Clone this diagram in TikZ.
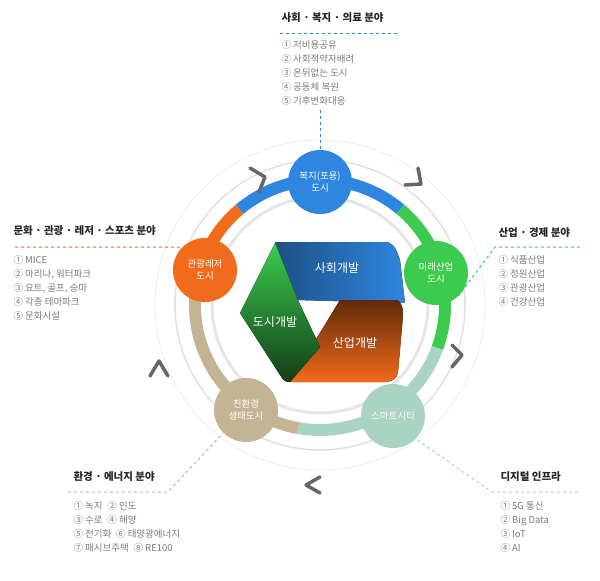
\documentclass[tikz,border=0pt]{standalone}
\usepackage{fontspec}
\setmainfont{Noto Sans CJK KR}
\usetikzlibrary{arrows,positioning}
\definecolor{cblue}{HTML}{2F86E0}
\definecolor{cgreen}{HTML}{3CCB4E}
\definecolor{cteal}{HTML}{A9D3C2}
\definecolor{ctan}{HTML}{C4B496}
\definecolor{corange}{HTML}{F26A1B}
\definecolor{ctext}{HTML}{7A7A7A}
\begin{document}
\begin{tikzpicture}[x=1pt,y=-1pt,font=\fontsize{9}{11}\selectfont]
          \tikzstyle{city}=[circle,minimum size=64pt,inner sep=0pt,text=white,align=center,font=\fontsize{9.5}{12}\selectfont]
          \tikzstyle{title}=[anchor=west,text=black!85,font=\fontsize{10.5}{12}\selectfont\bfseries]
          \tikzstyle{items}=[anchor=north west,text=ctext,align=left,font=\fontsize{9.5}{14}\selectfont]
          \tikzstyle{band}=[text=white,font=\fontsize{12}{14}\selectfont]
          \tikzstyle{ring}=[line width=12pt]
          \tikzstyle{chev}=[line width=3.5pt,black!60,line cap=round,line join=round]
          \useasboundingbox (0,0) rectangle (600,581);
          \coordinate (O) at (320,305);
          % guide circles
          \draw[black!12,line width=1.5pt] (O) circle (145);
          \draw[black!6,line width=1pt] (O) circle (165);
          \draw[black!10,line width=3pt] (O) circle (108);
          % coloured ring
          \draw[ring,cteal]   (O) ++(20:125) arc[start angle=20,end angle=100,radius=125];
          \draw[ring,ctan]    (O) ++(100:125) arc[start angle=100,end angle=190,radius=125];
          \draw[ring,corange] (O) ++(190:125) arc[start angle=190,end angle=230,radius=125];
          \draw[ring,cblue]   (O) ++(230:125) arc[start angle=230,end angle=310,radius=125];
          \draw[ring,cgreen]  (O) ++(310:125) arc[start angle=310,end angle=380,radius=125];
          % chevrons (clockwise)
          \draw[chev] (250,168) -- (265,177) -- (259,192);
          \draw[chev] (418,168) -- (421,184) -- (405,185);
          \draw[chev] (452,345) -- (462,355) -- (452,367);
          \draw[chev] (320,477) -- (306,485) -- (320,493);
          \draw[chev] (150,376) -- (159,361) -- (168,376);
          % centre ribbon
          \fill[left color=cblue!60!black,right color=cblue] (275,242) -- (385,242) to[out=0,in=110] (400,260) -- (405,303) -- (297,300) -- cycle;
          \fill[top color=corange!40!black,bottom color=corange] (340,300) -- (395,300) to[out=0,in=90] (403,316) -- (398,372) to[out=-90,in=0] (385,382) -- (290,382) -- cycle;
          \fill[top color=cgreen,bottom color=cgreen!30!black] (275,243) -- (297,298) -- (320,347) -- (290,382) to[out=180,in=-60] (282,378) -- (240,313) -- cycle;
          \node[band] (social) at (337,268) {사회개발};
          \node[band] (urban) at (275,322) {도시개발};
          \node[band] (industry) at (355,343) {산업개발};
          % city nodes
          \node[city,fill=cblue]   (welfare) at (320,182) {복지(포용)\\도시};
          \node[city,fill=cgreen]  (future)  at (436,273) {미래산업\\도시};
          \node[city,fill=cteal]   (smart)   at (393,416) {스마트시티};
          \node[city,fill=ctan]    (eco)     at (246,410) {친환경\\생태도시};
          \node[city,fill=corange] (tour)    at (205,270) {관광레저\\도시};
          % fields
          \node[title] (t1) at (278,18) {사회 · 복지 · 의료 분야};
          \draw[cblue,dashed,line width=1pt] (280,33) -- (400,33);
          \draw[cblue,dashed] (320,110) -- (welfare.north);
          \node[items] (l1) at (278,37) {① 저비용공유\\② 사회적약자배려\\③ 온뒤없는 도시\\④ 공동체 복원\\⑤ 기후변화대응};
          \node[title] (t2) at (10,231) {문화 · 관광 · 레저 · 스포츠 분야};
          \draw[corange,dashed,line width=1pt] (15,247) -- (160,247) -- (tour.north west);
          \node[items] (l2) at (10,252) {① MICE\\② 마리나, 워터파크\\③ 요트, 골프, 승마\\④ 각종 테마파크\\⑤ 문화시설};
          \node[title] (t3) at (495,233) {산업 · 경제 분야};
          \draw[cgreen,dashed,line width=1pt] (580,247) -- (495,247) -- (future.south east);
          \node[items] (l3) at (495,252) {① 식품산업\\② 정원산업\\③ 관광산업\\④ 건강산업};
          \node[title] (t4) at (70,477) {환경 · 에너지 분야};
          \draw[ctan,dashed,line width=1pt] (68,492) -- (168,492) -- (eco.south west);
          \node[items] (l4) at (70,498) {① 녹지\enspace② 인도\\③ 수로\enspace④ 해양\\⑤ 전기화\enspace⑥ 태양광에너지\\⑦ 패시브주택\enspace⑧ RE100};
          \node[title] (t5) at (497,477) {디지털 인프라};
          \draw[cteal,dashed,line width=1pt] (578,492) -- (492,492) -- (smart.south east);
          \node[items] (l5) at (497,498) {① 5G 통신\\② Big Data\\③ IoT\\④ AI};
        \end{tikzpicture}
\end{document}
